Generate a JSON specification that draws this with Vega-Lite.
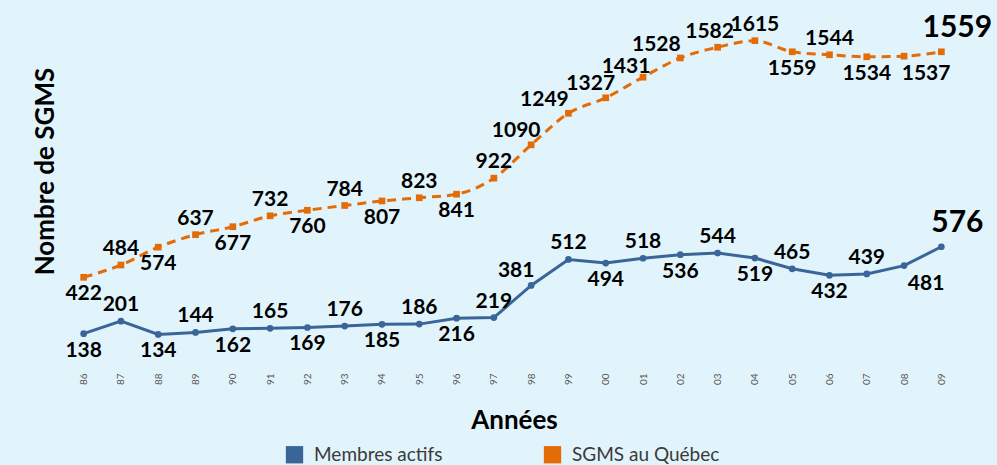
{
  "$schema": "https://vega.github.io/schema/vega-lite/v6.json",
  "width": 895,
  "height": 357,
  "autosize": {"type": "none"},
  "padding": {"left": 65, "top": 4, "right": 37, "bottom": 104},
  "background": "#E2F4FB",
  "config": {"view": {"stroke": null}, "font": "Lato"},
  "data": {
    "values": [
      {"year": "86", "series": "Membres actifs", "value": 138},
      {"year": "87", "series": "Membres actifs", "value": 201},
      {"year": "88", "series": "Membres actifs", "value": 134},
      {"year": "89", "series": "Membres actifs", "value": 144},
      {"year": "90", "series": "Membres actifs", "value": 162},
      {"year": "91", "series": "Membres actifs", "value": 165},
      {"year": "92", "series": "Membres actifs", "value": 169},
      {"year": "93", "series": "Membres actifs", "value": 176},
      {"year": "94", "series": "Membres actifs", "value": 185},
      {"year": "95", "series": "Membres actifs", "value": 186},
      {"year": "96", "series": "Membres actifs", "value": 216},
      {"year": "97", "series": "Membres actifs", "value": 219},
      {"year": "98", "series": "Membres actifs", "value": 381},
      {"year": "99", "series": "Membres actifs", "value": 512},
      {"year": "00", "series": "Membres actifs", "value": 494},
      {"year": "01", "series": "Membres actifs", "value": 518},
      {"year": "02", "series": "Membres actifs", "value": 536},
      {"year": "03", "series": "Membres actifs", "value": 544},
      {"year": "04", "series": "Membres actifs", "value": 519},
      {"year": "05", "series": "Membres actifs", "value": 465},
      {"year": "06", "series": "Membres actifs", "value": 432},
      {"year": "07", "series": "Membres actifs", "value": 439},
      {"year": "08", "series": "Membres actifs", "value": 481},
      {"year": "09", "series": "Membres actifs", "value": 576},
      {"year": "86", "series": "SGMS au Québec", "value": 422},
      {"year": "87", "series": "SGMS au Québec", "value": 484},
      {"year": "88", "series": "SGMS au Québec", "value": 574},
      {"year": "89", "series": "SGMS au Québec", "value": 637},
      {"year": "90", "series": "SGMS au Québec", "value": 677},
      {"year": "91", "series": "SGMS au Québec", "value": 732},
      {"year": "92", "series": "SGMS au Québec", "value": 760},
      {"year": "93", "series": "SGMS au Québec", "value": 784},
      {"year": "94", "series": "SGMS au Québec", "value": 807},
      {"year": "95", "series": "SGMS au Québec", "value": 823},
      {"year": "96", "series": "SGMS au Québec", "value": 841},
      {"year": "97", "series": "SGMS au Québec", "value": 922},
      {"year": "98", "series": "SGMS au Québec", "value": 1090},
      {"year": "99", "series": "SGMS au Québec", "value": 1249},
      {"year": "00", "series": "SGMS au Québec", "value": 1327},
      {"year": "01", "series": "SGMS au Québec", "value": 1431},
      {"year": "02", "series": "SGMS au Québec", "value": 1528},
      {"year": "03", "series": "SGMS au Québec", "value": 1582},
      {"year": "04", "series": "SGMS au Québec", "value": 1615},
      {"year": "05", "series": "SGMS au Québec", "value": 1559},
      {"year": "06", "series": "SGMS au Québec", "value": 1544},
      {"year": "07", "series": "SGMS au Québec", "value": 1534},
      {"year": "08", "series": "SGMS au Québec", "value": 1537},
      {"year": "09", "series": "SGMS au Québec", "value": 1559}
    ]
  },
  "encoding": {
    "x": {
      "field": "year",
      "type": "ordinal",
      "sort": ["86","87","88","89","90","91","92","93","94","95","96","97","98","99","00","01","02","03","04","05","06","07","08","09"],
      "scale": {"type": "point", "padding": 0.5},
      "axis": {
        "title": "Années",
        "titleFont": "Lato",
        "titleFontSize": 26,
        "titleFontWeight": "bold",
        "titleColor": "#000000",
        "titleX": 449,
        "titleY": 67,
        "titleBaseline": "alphabetic",
        "labelAngle": -90,
        "labelFont": "Lato",
        "labelFontSize": 10,
        "labelColor": "#555555",
        "labelPadding": 12,
        "ticks": false,
        "domain": false,
        "grid": false
      }
    },
    "y": {
      "field": "value",
      "type": "quantitative",
      "scale": {"domain": [0, 1800], "nice": false},
      "axis": {
        "title": "Nombre de SGMS",
        "titleFont": "Lato",
        "titleFontSize": 26,
        "titleFontWeight": "bold",
        "titleColor": "#000000",
        "titleAngle": -90,
        "titleX": -12,
        "titleY": 167,
        "titleAlign": "center",
        "titleBaseline": "alphabetic",
        "labels": false,
        "ticks": false,
        "domain": false,
        "grid": false
      }
    },
    "color": {
      "field": "series",
      "type": "nominal",
      "scale": {"domain": ["Membres actifs", "SGMS au Québec"], "range": ["#3A6598", "#E36C09"]},
      "legend": {
        "title": null,
        "orient": "none",
        "direction": "horizontal",
        "legendX": 220,
        "legendY": 441,
        "symbolType": "square",
        "symbolSize": 300,
        "symbolOpacity": 1,
        "symbolStrokeWidth": 0,
        "symbolDash": [],
        "labelFont": "Lato",
        "labelFontSize": 19,
        "labelColor": "#3A3A3A",
        "labelOffset": 10,
        "columnPadding": 100,
        "labelLimit": 300
      }
    }
  },
  "layer": [
    {
      "transform": [{"filter": "datum.series === 'Membres actifs'"}],
      "mark": {"type": "line", "strokeWidth": 3}
    },
    {
      "transform": [{"filter": "datum.series === 'SGMS au Québec'"}],
      "mark": {"type": "line", "strokeWidth": 3, "strokeDash": [9, 6], "interpolate": "monotone"}
    },
    {
      "transform": [{"filter": "datum.series === 'Membres actifs'"}],
      "mark": {"type": "point", "shape": "circle", "filled": true, "opacity": 1, "size": 45}
    },
    {
      "transform": [{"filter": "datum.series === 'SGMS au Québec'"}],
      "mark": {"type": "point", "shape": "square", "filled": true, "opacity": 1, "size": 45}
    },
    {
      "transform": [{"filter": "(datum.series === 'SGMS au Québec' && indexof(['87','89','91','93','95','97','04','06'], datum.year) >= 0) || (datum.series === 'Membres actifs' && indexof(['87','89','91','93','95','97','99','01','03','05','07'], datum.year) >= 0)"}],
      "mark": {"type": "text", "font": "Lato", "fontWeight": "bold", "fontSize": 21, "color": "#000000", "baseline": "middle", "dy": -16},
      "encoding": {"text": {"field": "value", "type": "quantitative"}, "color": {"value": "#000000"}}
    },
    {
      "transform": [{"filter": "(datum.series === 'SGMS au Québec' && indexof(['86','88','90','92','94','96','05','07'], datum.year) >= 0) || (datum.series === 'Membres actifs' && indexof(['86','88','90','92','94','96','00','02','04','06'], datum.year) >= 0)"}],
      "mark": {"type": "text", "font": "Lato", "fontWeight": "bold", "fontSize": 21, "color": "#000000", "baseline": "middle", "dy": 17},
      "encoding": {"text": {"field": "value", "type": "quantitative"}, "color": {"value": "#000000"}}
    },
    {
      "transform": [{"filter": "(datum.series === 'SGMS au Québec' && indexof(['98','00'], datum.year) >= 0) || (datum.series === 'Membres actifs' && datum.year === '98')"}],
      "mark": {"type": "text", "font": "Lato", "fontWeight": "bold", "fontSize": 21, "color": "#000000", "baseline": "middle", "dx": -15, "dy": -14},
      "encoding": {"text": {"field": "value", "type": "quantitative"}, "color": {"value": "#000000"}}
    },
    {
      "transform": [{"filter": "datum.series === 'SGMS au Québec' && datum.year === '01'"}],
      "mark": {"type": "text", "font": "Lato", "fontWeight": "bold", "fontSize": 21, "color": "#000000", "baseline": "middle", "dx": -17, "dy": -10},
      "encoding": {"text": {"field": "value", "type": "quantitative"}, "color": {"value": "#000000"}}
    },
    {
      "transform": [{"filter": "datum.series === 'SGMS au Québec' && indexof(['99','02'], datum.year) >= 0"}],
      "mark": {"type": "text", "font": "Lato", "fontWeight": "bold", "fontSize": 21, "color": "#000000", "baseline": "middle", "dx": -24, "dy": -13},
      "encoding": {"text": {"field": "value", "type": "quantitative"}, "color": {"value": "#000000"}}
    },
    {
      "transform": [{"filter": "datum.series === 'SGMS au Québec' && datum.year === '03'"}],
      "mark": {"type": "text", "font": "Lato", "fontWeight": "bold", "fontSize": 21, "color": "#000000", "baseline": "middle", "dx": -8, "dy": -15},
      "encoding": {"text": {"field": "value", "type": "quantitative"}, "color": {"value": "#000000"}}
    },
    {
      "transform": [{"filter": "datum.year === '08'"}],
      "mark": {"type": "text", "font": "Lato", "fontWeight": "bold", "fontSize": 21, "color": "#000000", "baseline": "middle", "dx": 22, "dy": 18},
      "encoding": {"text": {"field": "value", "type": "quantitative"}, "color": {"value": "#000000"}}
    },
    {
      "transform": [{"filter": "datum.year === '09'"}],
      "mark": {"type": "text", "font": "Lato", "fontWeight": "bold", "fontSize": 30, "color": "#000000", "baseline": "middle", "dx": 16, "dy": -24},
      "encoding": {"text": {"field": "value", "type": "quantitative"}, "color": {"value": "#000000"}}
    }
  ]
}
